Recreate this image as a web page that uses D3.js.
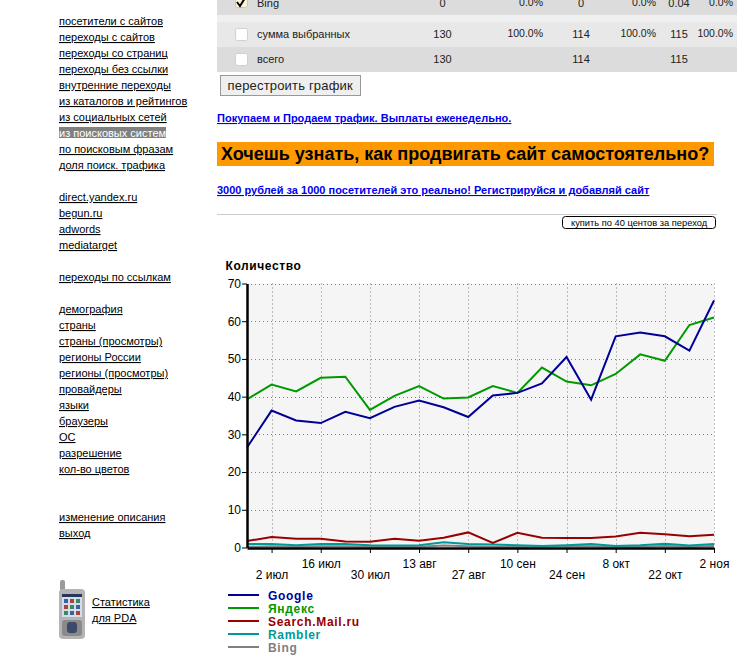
<!DOCTYPE html>
<html>
<head>
<meta charset="utf-8">
<script src="https://cdn.jsdelivr.net/npm/d3@7"></script>
<style>
html, body { margin: 0; padding: 0; background: #fff; overflow: hidden; }
svg { display: block; }
text { font-family: "Liberation Sans", Arial, sans-serif; }
.side { font-size: 11px; fill: #000; text-decoration: underline; }
.cell { font-size: 11px; fill: #222; }
.pct { font-size: 10.5px; fill: #222; }
.blue { font-size: 11px; font-weight: bold; fill: #0000ee; text-decoration: underline; }
.axis text { font-size: 12px; fill: #000; }
.leg { font-size: 12px; font-weight: bold; letter-spacing: 0.7px; }
</style>
</head>
<body>
<script>

//////////
// DATA //
//////////

var weeks = ['25 июн', '2 июл', '9 июл', '16 июл', '23 июл', '30 июл', '6 авг', '13 авг', '20 авг', '27 авг',
    '3 сен', '10 сен', '17 сен', '24 сен', '1 окт', '8 окт', '15 окт', '22 окт', '29 окт', '2 ноя'];

var tickUpper = ['16 июл', '13 авг', '10 сен', '8 окт', '2 ноя'],
    tickLower = ['2 июл', '30 июл', '27 авг', '24 сен', '22 окт'],
    yTicks = [0, 10, 20, 30, 40, 50, 60, 70];

var google = [26.5, 36.3, 33.7, 33, 36, 34.3, 37.3, 39, 37.2, 34.6, 40.3, 41, 43.5, 50.5, 39.2, 56, 57, 56, 52.2, 65.5],
    yandex = [39.3, 43.2, 41.4, 45, 45.3, 36.5, 40.2, 42.8, 39.5, 39.8, 42.8, 41, 47.7, 44, 43, 46, 51.2, 49.5, 59, 61],
    mail = [1.7, 2.8, 2.3, 2.3, 1.6, 1.5, 2.3, 1.8, 2.6, 4, 1.2, 3.9, 2.6, 2.5, 2.5, 2.9, 3.9, 3.5, 3, 3.4],
    rambler = [0.9, 0.9, 0.6, 0.9, 0.9, 0.6, 0.5, 0.6, 1.4, 0.9, 0.8, 0.6, 0.4, 0.6, 0.9, 0.4, 0.6, 1, 0.5, 0.9],
    bing = [0.2, 0.3, 0.2, 0.3, 0.3, 0.2, 0.2, 0.2, 0.5, 0.3, 0.2, 0.2, 0.2, 0.4, 0.3, 0.2, 0.2, 0.4, 0.2, 0.4];

var seriesNames = ['Google', 'Яндекс', 'Search.Mail.ru', 'Rambler', 'Bing'],
    seriesValues = [google, yandex, mail, rambler, bing],
    seriesColors = ['#000099', '#009900', '#990000', '#009999', '#808080'];

var sideLinks = [
    [21, 'посетители с сайтов'], [37, 'переходы с сайтов'], [53, 'переходы со страниц'],
    [69, 'переходы без ссылки'], [85, 'внутренние переходы'], [101, 'из каталогов и рейтингов'],
    [117, 'из социальных сетей'], [149, 'по поисковым фразам'], [165, 'доля поиск. трафика'],
    [197, 'direct.yandex.ru'], [213, 'begun.ru'], [229, 'adwords'], [245, 'mediatarget'],
    [277, 'переходы по ссылкам'],
    [309, 'демография'], [325, 'страны'], [341, 'страны (просмотры)'], [357, 'регионы России'],
    [373, 'регионы (просмотры)'], [389, 'провайдеры'], [405, 'языки'], [421, 'браузеры'],
    [437, 'ОС'], [453, 'разрешение'], [469, 'кол-во цветов'],
    [517, 'изменение описания'], [533, 'выход']
];

var svg = d3.select('body').append('svg')
    .attr('width', 737)
    .attr('height', 661);

/////////////
// SIDEBAR //
/////////////

svg.selectAll('.side')
    .data(sideLinks)
    .join('text')
    .attr('class', 'side')
    .attr('x', 59)
    .attr('y', function(d) { return d[0] + 4; })
    .text(function(d) { return d[1]; });

svg.append('rect').attr('x', 59).attr('y', 127).attr('width', 107).attr('height', 12).attr('fill', '#808080');
svg.append('text').attr('class', 'side').attr('x', 59).attr('y', 137)
    .style('fill', '#fff').text('из поисковых систем');

// phone icon
var phone = svg.append('g').attr('transform', 'translate(59,580)');
phone.append('rect').attr('x', 1).attr('y', 0).attr('width', 5).attr('height', 12).attr('rx', 2).attr('fill', '#9a9a9a');
phone.append('rect').attr('x', 0).attr('y', 9).attr('width', 26).attr('height', 50).attr('rx', 4).attr('fill', '#b4b4b4');
phone.append('rect').attr('x', 3).attr('y', 14).attr('width', 20).attr('height', 23).attr('fill', '#d5dcea');
phone.append('rect').attr('x', 3).attr('y', 14).attr('width', 20).attr('height', 3).attr('fill', '#26365c');
[0, 1, 2].forEach(function(r) {
    [0, 1, 2].forEach(function(c) {
        phone.append('rect').attr('x', 5 + c * 6).attr('y', 19 + r * 6).attr('width', 4).attr('height', 4)
            .attr('fill', ['#3a5fa8', '#a8453a', '#3a8a5f'][(r + c) % 3]);
    });
});
phone.append('rect').attr('x', 3).attr('y', 40).attr('width', 20).attr('height', 16).attr('rx', 3).attr('fill', '#8a8a8a');
phone.append('rect').attr('x', 8).attr('y', 42).attr('width', 10).attr('height', 11).attr('rx', 3).attr('fill', '#3b4a6b');

svg.append('text').attr('class', 'side').attr('x', 92).attr('y', 606).text('Статистика');
svg.append('text').attr('class', 'side').attr('x', 92).attr('y', 622).text('для PDA');

///////////
// TABLE //
///////////

var tableTop = svg.append('g');
tableTop.append('rect').attr('x', 217).attr('y', 0).attr('width', 520).attr('height', 15).attr('fill', '#dcdcdc');
tableTop.append('rect').attr('x', 217).attr('y', 15).attr('width', 520).attr('height', 7).attr('fill', '#f0f0f0');
tableTop.append('rect').attr('x', 217).attr('y', 22).attr('width', 520).attr('height', 25).attr('fill', '#e8e8e8');
tableTop.append('rect').attr('x', 217).attr('y', 47).attr('width', 520).attr('height', 25).attr('fill', '#dcdcdc');

var tableRows = [
    [7, 'Bing', '0', '0.0%', '0', '0.0%', '0.04', '0.0%'],
    [38, 'сумма выбранных', '130', '100.0%', '114', '100.0%', '115', '100.0%'],
    [63, 'всего', '130', '', '114', '', '115', '']
];

tableRows.forEach(function(r) {
    var checked = r[1] === 'Bing';
    tableTop.append('rect').attr('x', 235.5).attr('y', r[0] - (checked ? 11.5 : 9.5)).attr('width', 12).attr('height', 12).attr('rx', 2)
        .attr('fill', checked ? '#fbf3d8' : '#fff').attr('stroke', checked ? '#d8c890' : '#d0d0d0');
    tableTop.append('text').attr('class', 'cell').attr('x', 257).attr('y', r[0]).text(r[1]);
    tableTop.append('text').attr('class', 'cell').attr('x', 442.5).attr('y', r[0]).attr('text-anchor', 'middle').text(r[2]);
    tableTop.append('text').attr('class', 'pct').attr('x', 543).attr('y', r[0] - 1).attr('text-anchor', 'end').text(r[3]);
    tableTop.append('text').attr('class', 'cell').attr('x', 581).attr('y', r[0]).attr('text-anchor', 'middle').text(r[4]);
    tableTop.append('text').attr('class', 'pct').attr('x', 656).attr('y', r[0] - 1).attr('text-anchor', 'end').text(r[5]);
    tableTop.append('text').attr('class', 'cell').attr('x', 679).attr('y', r[0]).attr('text-anchor', 'middle').text(r[6]);
    tableTop.append('text').attr('class', 'pct').attr('x', 733).attr('y', r[0] - 1).attr('text-anchor', 'end').text(r[7]);
});

tableTop.append('path').attr('d', 'M237,2 L240,6 L245,-2').attr('fill', 'none').attr('stroke', '#000').attr('stroke-width', 2);

// rebuild button
svg.append('rect').attr('x', 220.5).attr('y', 75.5).attr('width', 140).attr('height', 20)
    .attr('fill', '#efefef').attr('stroke', '#999');
svg.append('text').attr('x', 227.5).attr('y', 90).style('font-size', '13px').style('letter-spacing', '0.18px').attr('fill', '#222')
    .text('перестроить график');

/////////////
// BANNERS //
/////////////

svg.append('text').attr('class', 'blue').attr('x', 217).attr('y', 122).text('Покупаем и Продаем трафик. Выплаты еженедельно.');
svg.append('rect').attr('x', 217).attr('y', 142).attr('width', 497).attr('height', 24).attr('fill', '#ff9900');
svg.append('text').attr('x', 221).attr('y', 160).style('font-size', '18px').style('font-weight', 'bold').attr('fill', '#000')
    .text('Хочешь узнать, как продвигать сайт самостоятельно?');
svg.append('text').attr('class', 'blue').attr('x', 217).attr('y', 194).text('3000 рублей за 1000 посетителей это реально! Регистрируйся и добавляй сайт');
svg.append('line').attr('x1', 217).attr('x2', 717).attr('y1', 214.5).attr('y2', 214.5).attr('stroke', '#ccc');
svg.append('rect').attr('x', 562.5).attr('y', 216.5).attr('width', 153).attr('height', 12).attr('rx', 3)
    .attr('fill', '#fff').attr('stroke', '#000');
svg.append('text').attr('x', 571).attr('y', 226).style('font-size', '9.3px').attr('fill', '#000').text('купить по 40 центов за переход');

///////////
// CHART //
///////////

var x = d3.scalePoint().domain(weeks).range([247, 714]),
    y = d3.scaleLinear().domain([0, 70]).range([547.5, 283.5]);

svg.append('text').attr('x', 225.5).attr('y', 270).style('font-size', '12px').style('font-weight', 'bold').style('letter-spacing', '0.6px')
    .attr('fill', '#000').text('Количество');

svg.append('rect').attr('x', x.range()[0]).attr('y', y(70)).attr('width', 467).attr('height', y(0) - y(70)).attr('fill', '#f5f5f5');

var allTicks = tickUpper.concat(tickLower);

svg.append('g').selectAll('line')
    .data(allTicks)
    .join('line')
    .attr('x1', function(d) { return Math.round(x(d)) + 0.5; })
    .attr('x2', function(d) { return Math.round(x(d)) + 0.5; })
    .attr('y1', y(70))
    .attr('y2', y(0))
    .attr('stroke', '#808080')
    .attr('stroke-dasharray', '1,3');

svg.append('g').selectAll('line')
    .data(yTicks.slice(1))
    .join('line')
    .attr('x1', x.range()[0])
    .attr('x2', x.range()[1])
    .attr('y1', function(d) { return Math.round(y(d)) + 0.5; })
    .attr('y2', function(d) { return Math.round(y(d)) + 0.5; })
    .attr('stroke', '#808080')
    .attr('stroke-dasharray', '1,3');

var line = d3.line()
    .x(function(d, i) { return x(weeks[i]); })
    .y(function(d) { return y(d); });

// bottom series first so Google and Yandex sit over them
[4, 3, 2, 1, 0].forEach(function(i) {
    svg.append('path')
        .attr('d', line(seriesValues[i]))
        .attr('fill', 'none')
        .attr('stroke', seriesColors[i])
        .attr('stroke-width', 2);
});

var yAxis = d3.axisLeft(y).tickValues(yTicks).tickSize(5).tickSizeOuter(0).tickPadding(1);
var yG = svg.append('g').attr('class', 'axis').attr('transform', 'translate(247,0)').call(yAxis);
yG.select('.domain').attr('stroke', '#000').attr('stroke-width', 2.5);
yG.selectAll('.tick line').attr('stroke', '#000');

var xUpper = d3.axisBottom(x).tickValues(tickUpper).tickSize(5).tickSizeOuter(0).tickPadding(6);
var xG = svg.append('g').attr('class', 'axis').attr('transform', 'translate(0,548)').call(xUpper);
xG.select('.domain').attr('stroke', '#000').attr('stroke-width', 2.5);
xG.selectAll('.tick line').attr('stroke', '#000');

var xLower = d3.axisBottom(x).tickValues(tickLower).tickSize(5).tickSizeOuter(0).tickPadding(17);
var xL = svg.append('g').attr('class', 'axis').attr('transform', 'translate(0,548)').call(xLower);
xL.select('.domain').remove();
xL.selectAll('.tick line').attr('stroke', '#000');

////////////
// LEGEND //
////////////

var legend = svg.append('g').selectAll('g')
    .data(seriesNames)
    .join('g')
    .attr('transform', function(d, i) { return 'translate(228,' + (595 + i * 13) + ')'; });

legend.append('line')
    .attr('x1', 0)
    .attr('x2', 31)
    .attr('stroke', function(d, i) { return seriesColors[i]; })
    .attr('stroke-width', 2);

legend.append('text')
    .attr('class', 'leg')
    .attr('x', 40)
    .attr('y', 5)
    .attr('fill', function(d, i) { return seriesColors[i]; })
    .text(function(d) { return d; });

</script>
</body>
</html>
